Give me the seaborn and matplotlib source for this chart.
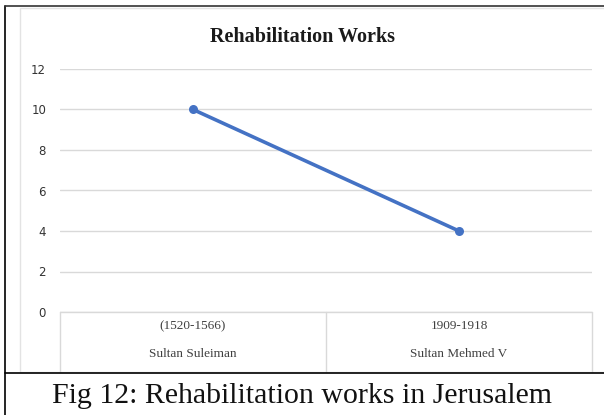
import matplotlib
matplotlib.use('Agg')
import matplotlib.pyplot as plt
from matplotlib.lines import Line2D
from matplotlib.patches import Rectangle
import seaborn as sns
import pandas as pd

periods = ['(1520-1566)', '1909-1918']
sultans = ['Sultan Suleiman', 'Sultan Mehmed V']
works = [10, 4]
y_ticks = [0, 2, 4, 6, 8, 10, 12]

sns.set_theme(style='white')
plt.rcParams['font.family'] = ['DejaVu Sans']

W, H = 604, 415
fig = plt.figure(figsize=(W / 100, H / 100), dpi=100)


def fx(px):
    return px / W


def fy(py):
    return 1 - py / H


# axes area in pixel coords of the reference
left, right, top, bottom = 60, 592, 69, 312
ax = fig.add_axes([fx(left), fy(bottom), fx(right) - fx(left), fy(top) - fy(bottom)])

df = pd.DataFrame({'label': [p + '\n' + s for p, s in zip(periods, sultans)],
                   'works': works})
sns.lineplot(data=df, x='label', y='works', ax=ax, color='#4472C4', linewidth=2.6,
             marker='o', markersize=6.5, markeredgewidth=0, sort=False)

ax.set_xlim(-0.5, 1.5)
ax.set_ylim(0, 12)
ax.set_yticks(y_ticks)
ax.yaxis.grid(True, color='#d9d9d9', linewidth=1)
ax.set_axisbelow(True)
for s in ax.spines.values():
    s.set_visible(False)
ax.set_xlabel('')
ax.set_ylabel('')
ax.tick_params(axis='y', length=0, pad=10, labelsize=8.5, labelcolor='#333333')
ax.tick_params(axis='x', length=0, pad=6)
for t in ax.get_xticklabels():
    t.set_fontfamily(['Liberation Serif'])
    t.set_fontsize(9.5)
    t.set_color('#404040')
    t.set_linespacing(2.7)

# category box below the axis
grey = '#d9d9d9'
fig.add_artist(Line2D([fx(left), fx(right)], [fy(bottom), fy(bottom)], color=grey, lw=1))
for xp in [left, (left + right) / 2, right]:
    fig.add_artist(Line2D([fx(xp), fx(xp)], [fy(bottom), fy(372)], color=grey, lw=1))

# chart frame and outer borders
fig.add_artist(Rectangle((fx(20), fy(372)), fx(W + 10) - fx(20), fy(8) - fy(372),
                         fill=False, edgecolor='#e3e3e3', lw=1))
fig.add_artist(Line2D([fx(5), fx(5)], [fy(6), 0], color='black', lw=1.2))
fig.add_artist(Line2D([fx(5), 1], [fy(6), fy(6)], color='#333333', lw=1.2))
fig.add_artist(Line2D([fx(5), 1], [fy(373), fy(373)], color='black', lw=1.2))

fig.text(fx(303), fy(37), 'Rehabilitation Works', ha='center', va='center',
         fontsize=14.5, fontweight='bold', family=['Liberation Serif'], color='#1a1a1a')
fig.text(fx(302), fy(396), 'Fig 12: Rehabilitation works in Jerusalem', ha='center',
         va='center', fontsize=21.5, family=['Liberation Serif'], color='#111111')

fig.savefig('out.png', dpi=100)
